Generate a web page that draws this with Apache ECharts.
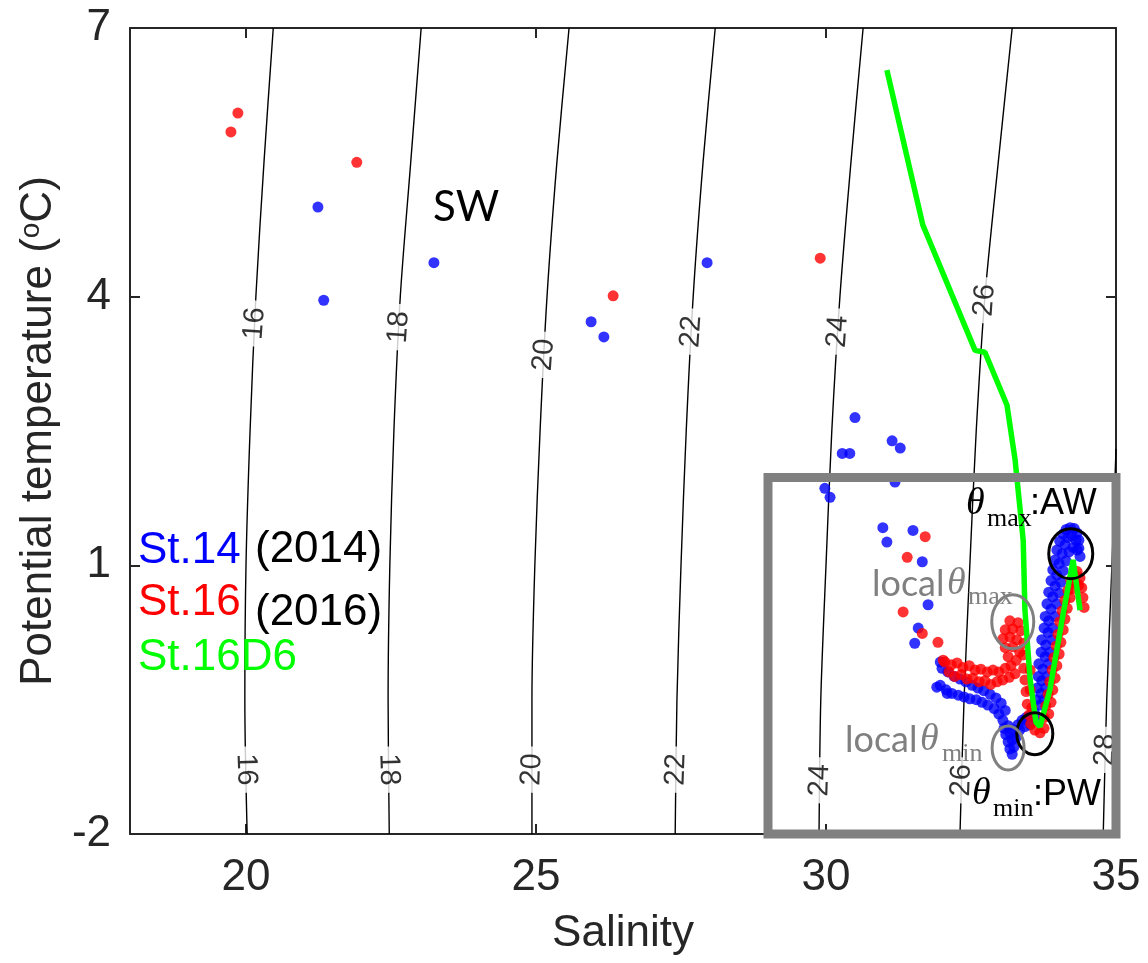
<!DOCTYPE html>
<html>
<head>
<meta charset="utf-8">
<script src="https://cdn.jsdelivr.net/npm/echarts@6/dist/echarts.min.js"></script>
<style>
  html, body { margin: 0; padding: 0; background: #fff; }
  #chart { width: 1148px; height: 963px; }
</style>
</head>
<body>
<div id="chart"></div>
<script>
// ---- Axis ticks ----
const salinityTicks = [20, 25, 30, 35];
const thetaTicks = [-2, 1, 4, 7];

// ---- Sigma-theta isopycnals: salinity at each potential temperature level ----
const contourTheta = [-2, -0.5, 1, 2.5, 4, 5.5, 7];
const sigma16 = [20.02, 19.98, 20.00, 20.07, 20.17, 20.31, 20.47];
const sigma18 = [22.47, 22.45, 22.48, 22.55, 22.66, 22.84, 23.02];
const sigma20 = [24.93, 24.93, 24.98, 25.07, 25.19, 25.36, 25.57];
const sigma22 = [27.40, 27.43, 27.50, 27.59, 27.71, 27.88, 28.09];
const sigma24 = [29.88, 29.91, 30.00, 30.10, 30.24, 30.43, 30.64];
const sigma26 = [32.31, 32.38, 32.48, 32.59, 32.74, 32.97, 33.21];
// the 28 isopycnal leaves the plot through the right edge
const sigma28Theta = [-2, -0.5, 1, 2.3];
const sigma28 = [34.78, 34.84, 34.93, 35.0];
const sigmaNames = ['16', '18', '20', '22', '24', '26', '28'];
// temperature where each isopycnal carries its upper / lower label (null = none)
const labelThetaUpper = [3.70, 3.66, 3.35, 3.61, 3.61, 3.96, null];
const labelThetaLower = [-1.28, -1.28, -1.28, -1.28, -1.40, -1.40, -1.06];
// 16 and 18 lean the other way near freezing, so their lower labels read downward
const labelRotLower = [-88, -88, 88, 88, 88, 88, 88];

// ---- St.14 (2014) CTD profile: [salinity, potential temperature] ----
const st14 = [
  [21.24, 5.00], [21.34, 3.96], [23.24, 4.38], [25.95, 3.72], [26.17, 3.55], [27.95, 4.38],
  [30.50, 2.65], [30.28, 2.25], [30.41, 2.25], [31.14, 2.39], [31.28, 2.31],
  [29.98, 1.86], [30.07, 1.76], [31.19, 1.93],
  [30.98, 1.42], [31.05, 1.26], [31.50, 1.39], [31.66, 1.04], [31.76, 0.56], [31.59, 0.30], [31.53, 0.13],
  [31.97, -0.08], [31.91, -0.36], [32.09, -0.43],
  // cold halocline, upper edge
  [32.00, -0.15], [32.10, -0.19], [32.21, -0.24], [32.31, -0.27], [32.41, -0.30], [32.52, -0.34],
  [32.62, -0.37], [32.72, -0.40], [32.83, -0.44], [32.93, -0.48], [33.02, -0.54], [33.09, -0.62],
  // cold halocline, lower edge
  [31.97, -0.34], [32.07, -0.39], [32.17, -0.43], [32.28, -0.45], [32.38, -0.47], [32.48, -0.49],
  [32.59, -0.50], [32.69, -0.53], [32.79, -0.56], [32.90, -0.60], [32.98, -0.66], [33.05, -0.73],
  // local temperature minimum
  [33.07, -0.82], [33.14, -0.79], [33.10, -0.89], [33.17, -0.87], [33.24, -0.84], [33.14, -0.97],
  [33.21, -0.95], [33.28, -0.92], [33.17, -1.05], [33.24, -1.03], [33.21, -1.11],
  [33.31, -0.78], [33.38, -0.73], [33.45, -0.70], [33.52, -0.68], [33.59, -0.70],
  [33.34, -0.84], [33.43, -0.80], [33.52, -0.78],
  // warming towards Atlantic Water
  [33.59, -0.64], [33.62, -0.50], [33.64, -0.37], [33.66, -0.24], [33.67, -0.10], [33.71, 0.03],
  [33.72, 0.17], [33.76, 0.30], [33.78, 0.43], [33.81, 0.57], [33.84, 0.70], [33.88, 0.83],
  [33.91, 0.95], [33.95, 1.06], [33.98, 1.17], [34.03, 1.27], [34.09, 1.35], [34.14, 1.40],
  [34.21, 1.42], [34.28, 1.41], [34.33, 1.36], [34.36, 1.28],
  [33.69, -0.56], [33.71, -0.43], [33.72, -0.29], [33.74, -0.16], [33.78, -0.02], [33.79, 0.11],
  [33.83, 0.25], [33.84, 0.38], [33.88, 0.51], [33.91, 0.65], [33.95, 0.77], [33.98, 0.89],
  [34.02, 1.02], [34.07, 1.13], [34.12, 1.23], [34.17, 1.31], [34.24, 1.33], [34.31, 1.28],
  [34.36, 1.19], [34.38, 1.10],
  [33.76, -0.50], [33.79, -0.37], [33.81, -0.24], [33.84, -0.10], [33.86, 0.03], [33.90, 0.17],
  [33.91, 0.30], [33.95, 0.43], [33.98, 0.57], [34.02, 0.69], [34.05, 0.81], [34.09, 0.94],
  [34.14, 1.05], [34.19, 1.15], [34.26, 1.20], [34.33, 1.17]
];

// ---- St.16 (2016) CTD profile ----
const st16 = [
  [19.74, 5.84], [19.86, 6.05], [21.91, 5.50], [26.33, 4.01], [29.90, 4.43],
  [31.71, 1.32], [31.40, 1.09], [31.33, 0.48], [31.66, 0.24], [31.93, 0.14], [32.02, -0.06],
  // halocline band
  [32.05, -0.08], [32.16, -0.11], [32.26, -0.09], [32.36, -0.14], [32.47, -0.12], [32.57, -0.17],
  [32.67, -0.16], [32.78, -0.19], [32.88, -0.17], [32.98, -0.19], [33.09, -0.15], [33.19, -0.12],
  [32.12, -0.19], [32.22, -0.24], [32.33, -0.22], [32.43, -0.27], [32.53, -0.26], [32.64, -0.30],
  [32.74, -0.29], [32.84, -0.33], [32.95, -0.30], [33.05, -0.28], [33.16, -0.25], [33.26, -0.21],
  // local temperature maximum
  [33.17, 0.38], [33.31, 0.36], [33.09, 0.28], [33.22, 0.29], [33.36, 0.27], [33.05, 0.18],
  [33.17, 0.20], [33.29, 0.17], [33.41, 0.13], [33.09, 0.08], [33.22, 0.09], [33.34, 0.03],
  [33.14, -0.02], [33.28, -0.06], [33.40, 0.00],
  // cooling to the temperature minimum
  [33.41, -0.15], [33.43, -0.28], [33.45, -0.41], [33.47, -0.55], [33.50, -0.67], [33.53, -0.77],
  [33.52, -0.17], [33.52, -0.39], [33.55, -0.59],
  [33.60, -0.84], [33.69, -0.87], [33.76, -0.82],
  // warming towards Atlantic Water
  [33.76, -0.70], [33.79, -0.57], [33.83, -0.44], [33.86, -0.30], [33.90, -0.17], [33.93, -0.03],
  [33.97, 0.10], [34.00, 0.23], [34.03, 0.37], [34.07, 0.49], [34.12, 0.61], [34.17, 0.72],
  [34.22, 0.83], [34.28, 0.90], [34.33, 0.93], [34.38, 0.86], [34.41, 0.75], [34.43, 0.64],
  [34.45, 0.53],
  [33.84, -0.66], [33.88, -0.53], [33.91, -0.39], [33.95, -0.26], [33.98, -0.12], [34.02, 0.01],
  [34.05, 0.14], [34.09, 0.28], [34.12, 0.40], [34.16, 0.52], [34.21, 0.64], [34.26, 0.74],
  [34.31, 0.80], [34.36, 0.78]
];

// ---- St.16D6 profile (line) ----
const st16d6 = [
  [31.05, 6.53], [31.67, 4.80], [32.57, 3.40], [32.74, 3.38], [33.12, 2.79], [33.26, 2.18],
  [33.40, 1.28], [33.43, 0.50], [33.52, -0.28], [33.62, -0.75], [33.69, -0.80], [33.86, -0.39],
  [34.07, 0.39], [34.26, 1.06], [34.38, 0.50]
];

const AXIS_COLOR = '#262626';
const SANS = '"Liberation Sans", Arial, sans-serif';
const SERIF = '"Liberation Serif", "Times New Roman", serif';
const HUMAN = 'Lato, "Open Sans", sans-serif';

const contours = [
  { s: sigma16, t: contourTheta }, { s: sigma18, t: contourTheta }, { s: sigma20, t: contourTheta },
  { s: sigma22, t: contourTheta }, { s: sigma24, t: contourTheta }, { s: sigma26, t: contourTheta },
  { s: sigma28, t: sigma28Theta }
];

function salinityOnContour(c, t) {
  for (let j = 0; j < c.t.length - 1; j++) {
    const t0 = c.t[j], t1 = c.t[j + 1];
    if (t >= t0 && t <= t1) {
      const f = (t - t0) / (t1 - t0);
      return c.s[j] + f * (c.s[j + 1] - c.s[j]);
    }
  }
  return c.s[c.s.length - 1];
}

const series = [];
contours.forEach((c) => {
  series.push({
    type: 'line',
    data: c.t.map((t, j) => [c.s[j], t]),
    symbol: 'none',
    smooth: 0.3,
    silent: true,
    lineStyle: { color: '#000', width: 1.4 },
    z: 1
  });
});

function contourLabel(c, theta, name, rot) {
  return {
    value: [salinityOnContour(c, theta), theta],
    name: name,
    label: { rotate: rot }
  };
}
const labelData = [];
contours.forEach((c, i) => {
  if (labelThetaUpper[i] !== null) labelData.push(contourLabel(c, labelThetaUpper[i], sigmaNames[i], 86));
  labelData.push(contourLabel(c, labelThetaLower[i], sigmaNames[i], labelRotLower[i]));
});

series.push({
  type: 'scatter',
  data: labelData,
  symbolSize: 1,
  silent: true,
  itemStyle: { color: 'rgba(0,0,0,0)' },
  label: {
    show: true,
    position: 'inside',
    formatter: (p) => p.name,
    fontFamily: SANS,
    fontSize: 29,
    color: '#000',
    backgroundColor: '#fff',
    padding: [0, 7]
  },
  z: 2
});

series.push({
  name: 'St.14', type: 'scatter', data: st14, symbolSize: 11,
  itemStyle: { color: '#0000ff' }, z: 3
});
series.push({
  name: 'St.16', type: 'scatter', data: st16, symbolSize: 11,
  itemStyle: { color: '#ff0000' }, z: 4
});
series.push({
  name: 'St.16D6', type: 'line', data: st16d6, symbol: 'none',
  lineStyle: { color: '#00ff00', width: 5.5 }, z: 5
});

const axisLine = { show: true, onZero: false, lineStyle: { color: AXIS_COLOR, width: 2 } };
const tickStyle = { color: AXIS_COLOR, width: 2 };

const option = {
  animation: false,
  backgroundColor: '#fff',
  grid: { left: 130, right: 32, top: 28, bottom: 129 },
  xAxis: [
    {
      type: 'value', min: 18, max: 35, position: 'bottom',
      axisLine: axisLine,
      axisTick: { show: true, inside: true, length: 10, customValues: salinityTicks, lineStyle: tickStyle },
      axisLabel: { customValues: salinityTicks, fontFamily: SANS, fontSize: 44, color: AXIS_COLOR, margin: 22 },
      splitLine: { show: false },
      name: 'Salinity', nameLocation: 'middle', nameGap: 78,
      nameTextStyle: { fontFamily: SANS, fontSize: 44, color: AXIS_COLOR }
    },
    {
      type: 'value', min: 18, max: 35, position: 'top',
      axisLine: axisLine,
      axisTick: { show: true, inside: true, length: 10, customValues: salinityTicks, lineStyle: tickStyle },
      axisLabel: { show: false },
      splitLine: { show: false }
    }
  ],
  yAxis: [
    {
      type: 'value', min: -2, max: 7, interval: 3, position: 'left',
      axisLine: axisLine,
      axisTick: { show: true, inside: true, length: 10, customValues: thetaTicks, lineStyle: tickStyle },
      axisLabel: { customValues: thetaTicks, fontFamily: SANS, fontSize: 44, color: AXIS_COLOR, margin: 19 },
      splitLine: { show: false },
      name: 'Potential temperature ({sup|o}C)', nameLocation: 'middle', nameGap: 64,
      nameTextStyle: {
        fontFamily: SANS, fontSize: 44, color: AXIS_COLOR,
        rich: { sup: { fontFamily: SANS, fontSize: 28, color: AXIS_COLOR, verticalAlign: 'top' } }
      }
    },
    {
      type: 'value', min: -2, max: 7, interval: 3, position: 'right',
      axisLine: axisLine,
      axisTick: { show: true, inside: true, length: 10, customValues: thetaTicks, lineStyle: tickStyle },
      axisLabel: { show: false },
      splitLine: { show: false }
    }
  ],
  series: series
};

const chart = echarts.init(document.getElementById('chart'), null, { renderer: 'canvas' });
chart.setOption(option);

// ---- Annotations ----
const px = (s, t) => chart.convertToPixel({ gridIndex: 0 }, [s, t]);

function ring(s, t, rx, ry, color) {
  const c = px(s, t);
  return { type: 'ellipse', z: 100, shape: { cx: c[0], cy: c[1], rx: rx, ry: ry },
           style: { fill: 'none', stroke: color, lineWidth: 3 } };
}
// text anchored at its left edge, y = middle of the em box (baseline - 0.35 em)
function txt(x, baseline, text, size, family, color, italic) {
  return { type: 'text', z: 101, x: x, y: baseline - 0.35 * size,
           style: { text: text, fontSize: size, fontFamily: family, fill: color,
                    fontStyle: italic ? 'italic' : 'normal', align: 'left', verticalAlign: 'middle' } };
}

const boxTL = px(29.0, 1.98);
const boxBR = px(35, -2);
const GRAY = '#808080';

const graphics = [
  { type: 'rect', z: 99,
    shape: { x: boxTL[0], y: boxTL[1], width: boxBR[0] - boxTL[0], height: boxBR[1] - boxTL[1] },
    style: { fill: 'none', stroke: GRAY, lineWidth: 9 } },
  ring(34.22, 1.13, 22, 25, '#000'),
  ring(33.60, -0.88, 18, 21, '#000'),
  ring(33.22, 0.37, 21, 27, GRAY),
  ring(33.14, -1.04, 16, 22, GRAY),

  txt(433, 222, 'SW', 42, HUMAN, '#000'),

  txt(138, 566, 'St.14', 44, SANS, '#0000ff'),
  txt(255, 565, '(2014)', 44, SANS, '#000'),
  txt(138, 618, 'St.16', 44, SANS, '#ff0000'),
  txt(255, 628, '(2016)', 44, SANS, '#000'),
  txt(138, 673, 'St.16D6', 44, SANS, '#00ff00'),

  txt(966, 517, 'θ', 38, SERIF, '#000', true),
  txt(987, 528, 'max', 26, SERIF, '#000'),
  txt(1030, 517, ':AW', 36, SANS, '#000'),

  txt(972, 807, 'θ', 38, SERIF, '#000', true),
  txt(993, 818, 'min', 26, SERIF, '#000'),
  txt(1033, 808, ':PW', 36, SANS, '#000'),

  txt(872, 597, 'local', 36, HUMAN, GRAY),
  txt(947, 597, 'θ', 38, SERIF, GRAY, true),
  txt(968, 606, 'max', 26, SERIF, GRAY),

  txt(845, 753, 'local', 36, HUMAN, GRAY),
  txt(920, 753, 'θ', 38, SERIF, GRAY, true),
  txt(942, 763, 'min', 26, SERIF, GRAY)
];

chart.setOption({ graphic: graphics });
</script>
</body>
</html>
